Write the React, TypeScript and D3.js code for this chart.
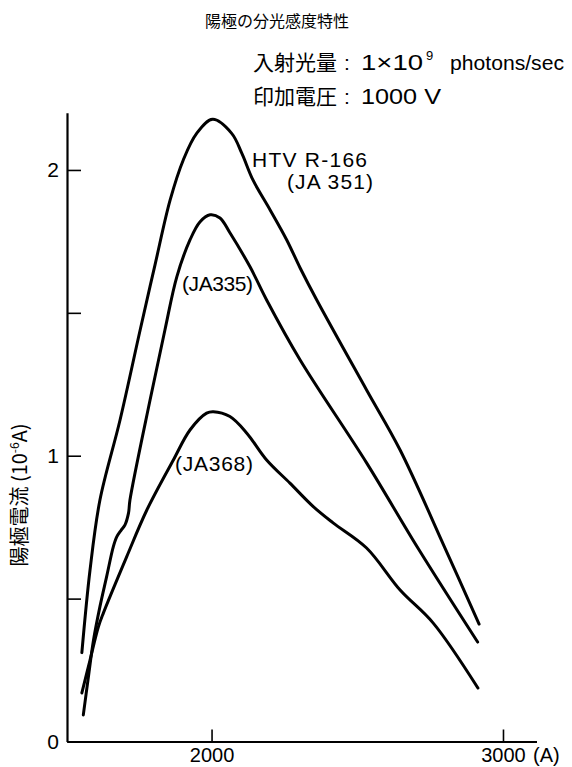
import React, { useEffect, useRef } from "react";
import * as d3 from "d3";

// Axis ticks
const xTickValues = [2000, 3000];
const yTickValues = [0, 0.5, 1, 1.5, 2];
const yTickLabels = ["0", "", "1", "", "2"];

// Curve: HTV R-166 (JA 351)
const wlJA351 = [1555, 1583, 1617, 1686, 1755, 1806, 1858, 1903, 1949, 2004, 2069, 2104, 2142, 2201, 2258, 2304, 2361, 2532, 2647, 2801, 2918];
const valJA351 = [0.311, 0.6, 0.845, 1.125, 1.44, 1.668, 1.895, 2.035, 2.128, 2.177, 2.128, 2.058, 1.965, 1.86, 1.755, 1.657, 1.545, 1.23, 1.02, 0.677, 0.411];

// Curve: JA335
const wlJA335 = [1560, 1576, 1595, 1617, 1640, 1663, 1675, 1690, 1703, 1715, 1720, 1789, 1840, 1881, 1926, 1960, 1995, 2029, 2063, 2132, 2189, 2304, 2532, 2708, 2913];
const valJA335 = [0.093, 0.215, 0.355, 0.472, 0.577, 0.682, 0.717, 0.74, 0.758, 0.799, 0.845, 1.195, 1.44, 1.627, 1.755, 1.818, 1.843, 1.832, 1.78, 1.661, 1.545, 1.335, 0.975, 0.677, 0.348];

// Curve: JA368
const wlJA368 = [1555, 1583, 1612, 1629, 1709, 1778, 1869, 1926, 1983, 2006, 2063, 2121, 2189, 2269, 2349, 2417, 2532, 2647, 2760, 2914];
const valJA368 = [0.17, 0.285, 0.402, 0.45, 0.647, 0.81, 0.985, 1.09, 1.149, 1.154, 1.137, 1.079, 0.985, 0.904, 0.822, 0.765, 0.677, 0.53, 0.415, 0.187];

const seriesNames = ["JA351", "JA335", "JA368"];

const LATIN = "'Liberation Sans', 'Noto Sans CJK JP', sans-serif";
const CJK = "'Noto Sans CJK JP', 'Liberation Sans', sans-serif";
const INK = "#000";

export default function App() {
  const ref = useRef<SVGSVGElement | null>(null);

  useEffect(() => {
    const svg = d3.select(ref.current);
    svg.selectAll("*").remove();

    const x = d3.scaleLinear().domain([1504, 3115]).range([67, 536.5]);
    const y = d3.scaleLinear().domain([0, 2.2]).range([741.5, 112.8]);

    // Axes
    const yAxis = d3
      .axisLeft(y)
      .tickValues(yTickValues)
      .tickSizeInner(-14)
      .tickSizeOuter(0)
      .tickPadding(8)
      .tickFormat((d, i) => yTickLabels[i]);
    const gy = svg.append("g").attr("transform", `translate(${x(1504)},0)`).call(yAxis);
    gy.select(".domain").attr("stroke", INK).attr("stroke-width", 2.2);
    gy.selectAll(".tick line").attr("stroke", INK).attr("stroke-width", 1.6);
    gy.selectAll(".tick text")
      .attr("font-family", LATIN)
      .attr("font-size", 21)
      .attr("fill", INK);

    const xAxis = d3
      .axisBottom(x)
      .tickValues(xTickValues)
      .tickSizeInner(-12)
      .tickSizeOuter(0)
      .tickPadding(6)
      .tickFormat((d) => String(d));
    const gx = svg.append("g").attr("transform", `translate(0,${y(0)})`).call(xAxis);
    gx.select(".domain").attr("stroke", INK).attr("stroke-width", 2.2);
    gx.selectAll(".tick line").attr("stroke", INK).attr("stroke-width", 1.6);
    gx.selectAll(".tick text")
      .attr("font-family", LATIN)
      .attr("font-size", 20)
      .attr("fill", INK);

    // "(A)" unit after 3000
    svg
      .append("text")
      .attr("x", x(3000) + 30)
      .attr("y", y(0) + 20)
      .attr("font-family", LATIN)
      .attr("font-size", 20)
      .attr("fill", INK)
      .text("(A)");

    // Curves
    const data = [
      wlJA351.map((w, i) => [w, valJA351[i]]),
      wlJA335.map((w, i) => [w, valJA335[i]]),
      wlJA368.map((w, i) => [w, valJA368[i]]),
    ];
    const line = d3
      .line<number[]>()
      .x((d) => x(d[0]))
      .y((d) => y(d[1]))
      .curve(d3.curveCatmullRom.alpha(0.5));
    svg
      .selectAll("path.curve")
      .data(data)
      .enter()
      .append("path")
      .attr("class", (d, i) => "curve " + seriesNames[i])
      .attr("d", (d) => line(d as number[][]))
      .attr("fill", "none")
      .attr("stroke", INK)
      .attr("stroke-width", 3)
      .attr("stroke-linejoin", "round")
      .attr("stroke-linecap", "round");

    // Curve labels
    const lbl = (t: string, xx: number, yy: number, len: number) =>
      svg
        .append("text")
        .attr("x", xx)
        .attr("y", yy)
        .attr("font-family", LATIN)
        .attr("font-size", 21)
        .attr("fill", INK)
        .attr("textLength", len)
        .attr("lengthAdjust", "spacing")
        .text(t);
    lbl("HTV R-166", 252, 167, 115);
    lbl("(JA 351)", 287, 189, 86);
    lbl("(JA335)", 182, 291, 71);
    lbl("(JA368)", 175, 471, 78);

    // Title and conditions
    svg
      .append("text")
      .attr("x", 277)
      .attr("y", 27)
      .attr("text-anchor", "middle")
      .attr("font-family", CJK)
      .attr("font-size", 16)
      .attr("fill", INK)
      .text("陽極の分光感度特性");

    const l2 = svg
      .append("g")
      .attr("font-family", LATIN)
      .attr("font-size", 21)
      .attr("fill", INK);
    l2.append("text").attr("x", 253).attr("y", 70).attr("font-family", CJK).text("入射光量");
    l2.append("text").attr("x", 344).attr("y", 70).text(":");
    l2.append("text").attr("x", 361).attr("y", 70).attr("font-size", 22).attr("textLength", 62).attr("lengthAdjust", "spacingAndGlyphs").text("1×10");
    l2.append("text").attr("x", 426).attr("y", 60).attr("font-size", 13).text("9");
    l2.append("text").attr("x", 450).attr("y", 70).attr("textLength", 114).attr("lengthAdjust", "spacingAndGlyphs").text("photons/sec");

    const l3 = svg
      .append("g")
      .attr("font-family", LATIN)
      .attr("font-size", 21)
      .attr("fill", INK);
    l3.append("text").attr("x", 253).attr("y", 104).attr("font-family", CJK).text("印加電圧");
    l3.append("text").attr("x", 344).attr("y", 104).text(":");
    l3.append("text").attr("x", 361).attr("y", 104).attr("font-size", 22).attr("textLength", 80).attr("lengthAdjust", "spacingAndGlyphs").text("1000 V");

    // Y-axis title (rotated)
    const yl = svg
      .append("text")
      .attr("transform", `translate(27,${495}) rotate(-90)`)
      .attr("text-anchor", "middle")
      .attr("font-family", CJK)
      .attr("font-size", 20)
      .attr("fill", INK);
    yl.append("tspan").text("陽極電流 (10");
    yl.append("tspan").attr("font-size", 12).attr("dy", -8).text("-6");
    yl.append("tspan").attr("dy", 8).text("A)");
  }, []);

  return (
    <svg
      ref={ref}
      width={572}
      height={767}
      style={{ position: "absolute", left: 0, top: 0, background: "#fff" }}
    />
  );
}
